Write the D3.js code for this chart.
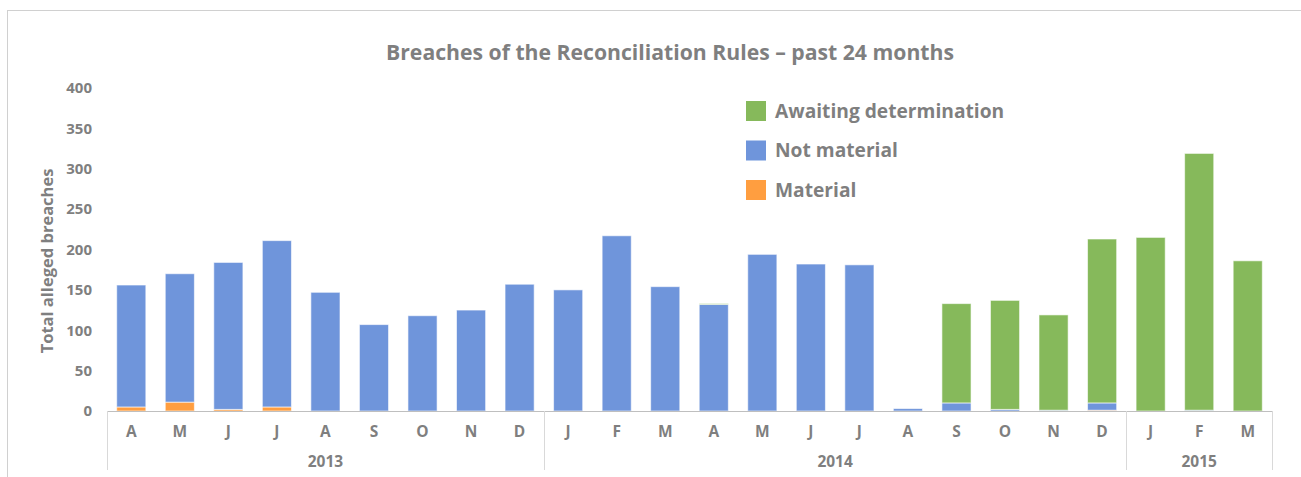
<!DOCTYPE html>
<html>
<head>
<meta charset="utf-8">
<script src="https://cdn.jsdelivr.net/npm/d3@7"></script>
<style>
  body { margin: 0; background: #fff; }
  text { font-family: "Open Sans", sans-serif; font-weight: bold; fill: #7f7f7f; }
</style>
</head>
<body>
<div id="chart"></div>
<script>
// data
const months = ["A","M","J","J","A","S","O","N","D","J","F","M","A","M","J","J","A","S","O","N","D","J","F","M"];
const years = [
  { label: "2013", start: 0, end: 9 },
  { label: "2014", start: 9, end: 21 },
  { label: "2015", start: 21, end: 24 }
];
const material =    [5, 11, 2, 5, 0, 0, 0, 0, 0, 0, 0, 0, 0, 0, 0, 0, 0, 0, 0, 0, 1, 0, 0, 0];
const notMaterial = [151, 159, 182, 206, 147, 107, 118, 125, 157, 150, 217, 154, 132, 194, 182, 181, 3, 10, 2, 1, 9, 0, 1, 0];
const awaiting =    [0, 0, 0, 0, 0, 0, 0, 0, 0, 0, 0, 0, 1, 0, 0, 0, 0, 123, 135, 118, 203, 215, 318, 186];
const seriesNames = ["Material", "Not material", "Awaiting determination"];
const seriesColors = ["#FF9E40", "#6F95DB", "#86B95B"];
const yTicks = [0, 50, 100, 150, 200, 250, 300, 350, 400];

const width = 1301, height = 477;
const svg = d3.select("#chart").append("svg")
  .attr("width", width).attr("height", height);

// outer frame
svg.append("rect")
  .attr("x", 7.5).attr("y", 10.5)
  .attr("width", 1310).attr("height", 500)
  .attr("fill", "none").attr("stroke", "#d0d0d0");

const x0 = 107, x1 = 1272, yTop = 88, yBase = 411;

let rows = months.map((m, i) => ({
  i: i, material: material[i], notMaterial: notMaterial[i], awaiting: awaiting[i]
}));
let keys = ["material", "notMaterial", "awaiting"];
let stacked = d3.stack().keys(keys)(rows);

let x = d3.scaleBand().domain(d3.range(months.length)).range([x0, x1]).paddingInner(0.4).paddingOuter(0.2);
let y = d3.scaleLinear().domain([0, 400]).range([yBase, yTop]);

// title
svg.append("text")
  .attr("x", 670).attr("y", 60)
  .attr("text-anchor", "middle")
  .attr("font-size", "21.2px")
  .text("Breaches of the Reconciliation Rules – past 24 months");

// y axis labels
svg.append("g").selectAll("text")
  .data(yTicks)
  .join("text")
  .attr("x", 92)
  .attr("y", d => y(d))
  .attr("dy", "0.35em")
  .attr("text-anchor", "end")
  .attr("font-size", "15px")
  .text(d => d);

svg.append("text")
  .attr("transform", "translate(53,261) rotate(-90)")
  .attr("text-anchor", "middle")
  .attr("font-size", "16.5px")
  .text("Total alleged breaches");

// bars
svg.append("g").selectAll("g")
  .data(stacked)
  .join("g")
  .attr("fill", (d, k) => seriesColors[k])
  .selectAll("rect")
  .data(d => d.filter(s => s[1] - s[0] > 0))
  .join("rect")
  .attr("x", d => x(d.data.i))
  .attr("width", x.bandwidth())
  .attr("y", d => y(d[1]))
  .attr("height", d => y(d[0]) - y(d[1]))
  .attr("stroke", "rgba(255,255,255,0.6)")
  .attr("stroke-width", 1);

// category axis
svg.append("line")
  .attr("x1", x0).attr("x2", x1)
  .attr("y1", yBase + 0.5).attr("y2", yBase + 0.5)
  .attr("stroke", "#bfbfbf");

let step = x.step();
let bounds = [0].concat(years.map(d => d.end));
svg.append("g").selectAll("line")
  .data(bounds)
  .join("line")
  .attr("x1", d => Math.round(x0 + d * step) + 0.5)
  .attr("x2", d => Math.round(x0 + d * step) + 0.5)
  .attr("y1", yBase).attr("y2", 470)
  .attr("stroke", "#d9d9d9");

svg.append("g").selectAll("text")
  .data(months)
  .join("text")
  .attr("x", (d, i) => x(i) + x.bandwidth() / 2)
  .attr("y", 437)
  .attr("text-anchor", "middle")
  .attr("font-size", "15.5px")
  .text(d => d);

svg.append("g").selectAll("text")
  .data(years)
  .join("text")
  .attr("x", d => x0 + (d.start + d.end) / 2 * step)
  .attr("y", 467)
  .attr("text-anchor", "middle")
  .attr("font-size", "15.5px")
  .text(d => d.label);

// legend (top to bottom: awaiting, not material, material)
let legendOrder = [2, 1, 0];
let legend = svg.append("g").selectAll("g")
  .data(legendOrder)
  .join("g")
  .attr("transform", (d, i) => "translate(746," + (101 + i * 39.5) + ")");
legend.append("rect")
  .attr("width", 20).attr("height", 20)
  .attr("fill", d => seriesColors[d]);
legend.append("text")
  .attr("x", 29).attr("y", 10)
  .attr("dy", "0.35em")
  .attr("font-size", "19.2px")
  .text(d => seriesNames[d]);
</script>
</body>
</html>
